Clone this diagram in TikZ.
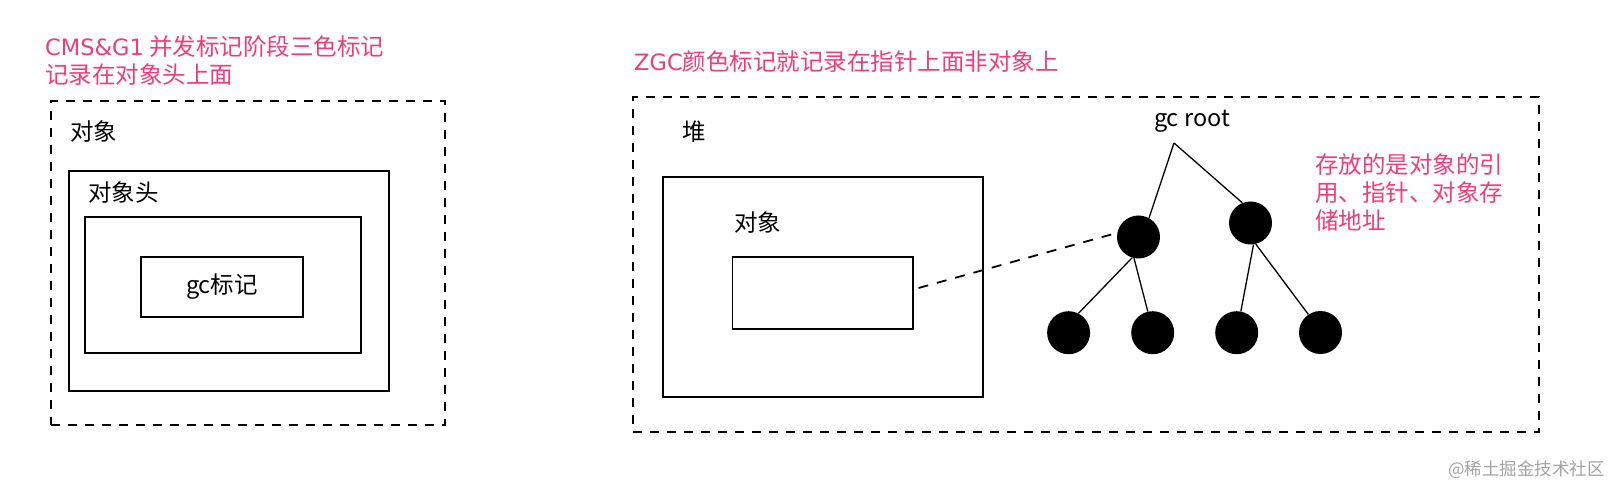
\documentclass[tikz,border=0pt]{standalone}
\usepackage{fontspec}
\setmainfont{Noto Sans CJK SC}
\newfontfamily\latf{DejaVu Sans}
\newcommand{\lt}[1]{{\latf\fontsize{22.5}{28}\selectfont #1}}
\definecolor{pinkc}{HTML}{EF3D78}
\definecolor{wmgray}{HTML}{A3A3A3}
\begin{document}
\begin{tikzpicture}[x=1pt,y=-1pt,
  frame/.style={draw, line width=1.8pt, inner sep=0pt},
  dashframe/.style={draw, line width=1.8pt, dash pattern=on 9pt off 8pt, inner sep=0pt},
  txt/.style={font=\fontsize{23.5}{28}\selectfont, inner sep=0pt, anchor=west},
  note/.style={txt, text=pinkc, align=left},
  dot/.style={circle, fill=black, minimum size=43pt, inner sep=0pt},
  treeedge/.style={line width=1.3pt},
  link/.style={line width=1.8pt, dash pattern=on 10pt off 9pt}]
\useasboundingbox[fill=white] (0,0) rectangle (1612,486);

% ---------- left diagram ----------
\node[note] (t1) at (45,61) {\lt{CMS\&G1} 并发标记阶段三色标记\\记录在对象头上面};
\node[dashframe, minimum width=394pt, minimum height=324pt] (outerL) at (248,263) {};
\node[txt] (lblObj) at (70,132) {对象};
\node[frame, minimum width=320pt, minimum height=220pt] (hdrBox) at (229,281) {};
\node[txt] (lblHdr) at (88,193) {对象头};
\node[frame, minimum width=276pt, minimum height=136pt] (innerL) at (223,285) {};
\node[frame, minimum width=162pt, minimum height=60pt, font=\fontsize{23.5}{28}\selectfont] (gcBox) at (222,287) {gc标记};

% ---------- right diagram ----------
\node[note] (t2) at (634,62) {\lt{ZGC}颜色标记就记录在指针上面非对象上};
\node[dashframe, minimum width=906pt, minimum height=335pt] (outerR) at (1086,264.5) {};
\node[txt] (heap) at (682,132) {堆};
\node[frame, minimum width=320pt, minimum height=220pt] (objBox) at (823,287) {};
\node[txt] (lblObj2) at (734,223) {对象};
\node[frame, minimum width=180.5pt, minimum height=72pt] (ptrBox) at (822.75,293) {};

\node[font=\fontsize{23.5}{28}\selectfont, inner sep=0pt] (root) at (1192,121) {gc root};
\coordinate (rt) at (1174,143);
\node[dot] (A) at (1138.5,237) {};
\node[dot] (B) at (1250.5,223) {};
\node[dot] (b1) at (1068.6,332.7) {};
\node[dot] (b2) at (1152.7,332.7) {};
\node[dot] (b3) at (1236.7,332.7) {};
\node[dot] (b4) at (1320.5,332.5) {};

\draw[treeedge] (rt) -- (A.61);
\draw[treeedge] (rt) -- (B.112);
\draw[treeedge] (A.253) -- (b1.63);
\draw[treeedge] (A.258) -- (b2.103);
\draw[treeedge] (B.278) -- (b3.79);
\draw[treeedge] (B.284) -- (b4.124);

\coordinate (ptrOut) at (918.5,288);
\draw[link] (ptrOut) -- (A.169);

\node[note] (noteR) at (1315,192) {存放的是对象的引\\用、指针、对象存\\储地址};

\node[font=\fontsize{17.5}{20}\selectfont, text=wmgray, inner sep=0pt, anchor=east] (wm) at (1605,470) {@稀土掘金技术社区};
\end{tikzpicture}
\end{document}
